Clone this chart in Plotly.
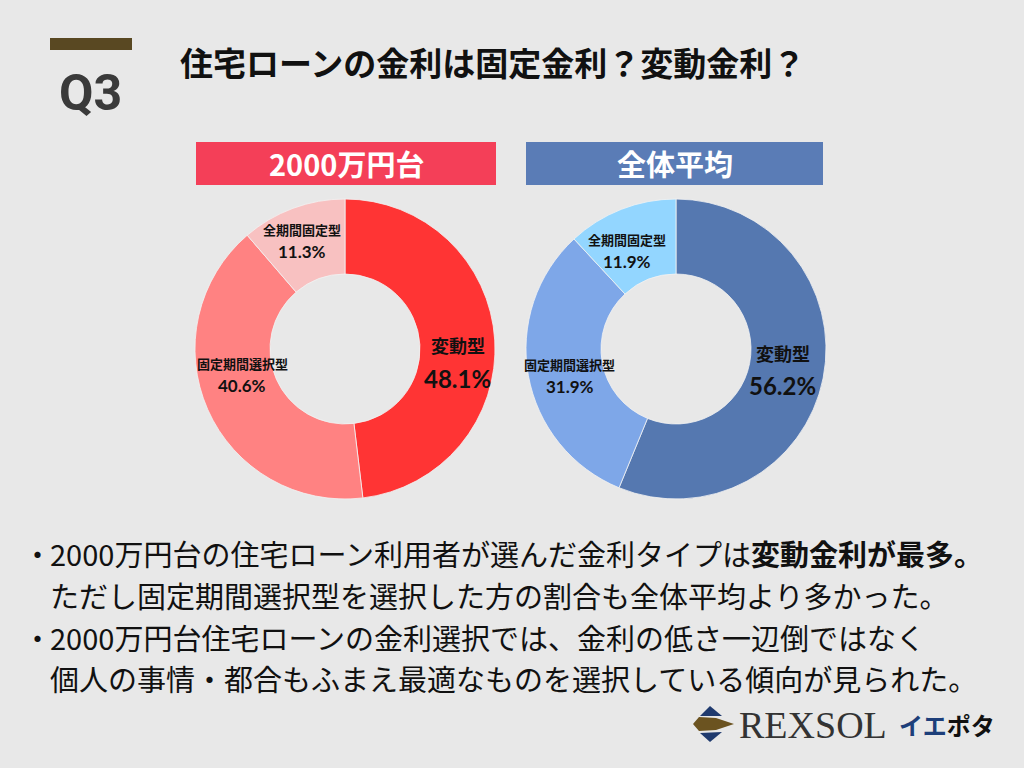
import math
import plotly.graph_objects as go

# ---- data ----
categories = ["変動型", "固定期間選択型", "全期間固定型"]
values_2000 = [48.1, 40.6, 11.3]
values_all = [56.2, 31.9, 11.9]
panel_titles = ["2000万円台", "全体平均"]
colors_2000 = ["#ff3434", "#ff8282", "#f8c1c1"]
colors_all = ["#5578b0", "#7ea7e8", "#93d6ff"]
header_colors = ["#f43f58", "#5a7cb6"]

title = "住宅ローンの金利は固定金利？変動金利？"
bullets = [
    ("・", "2000万円台の住宅ローン利用者が選んだ金利タイプは<b>変動金利が最多。</b>"),
    ("", "ただし固定期間選択型を選択した方の割合も全体平均より多かった。"),
    ("・", "2000万円台住宅ローンの金利選択では、金利の低さ一辺倒ではなく"),
    ("", "個人の事情・都合もふまえ最適なものを選択している傾向が見られた。"),
]

# label nudges (pixels, dx, dy) relative to slice mid-angle point, per pie
label_nudges = [
    [(1, 19), (0, -20), (-4, -3)],
    [(-3, -2), (4, 7), (-8, 6)],
]

W, H = 1024, 768
BG = "#e8e8e8"
FONT = "Noto Sans CJK JP"


def px(x):
    return x / W


def py(y):
    return 1 - y / H


fig = go.Figure()


def ann(x, y, text, size, color="#111", family=FONT, xanchor="center"):
    fig.add_annotation(x=px(x), y=py(y), xref="paper", yref="paper", text=text,
                       showarrow=False, xanchor=xanchor, yanchor="middle",
                       font=dict(family=family, size=size, color=color))


centers = [(345, 349), (676, 349)]
R = 150
for k, ((cx, cy), vals, cols) in enumerate(zip(centers, [values_2000, values_all],
                                               [colors_2000, colors_all])):
    fig.add_trace(go.Pie(
        labels=categories, values=vals, sort=False, direction="clockwise", rotation=0,
        hole=0.5, marker=dict(colors=cols, line=dict(color="#f2f2f2", width=0.8)),
        textinfo="none", hoverinfo="label+percent", showlegend=False,
        domain=dict(x=[px(cx - R), px(cx + R)], y=[py(cy + R), py(cy - R)]),
    ))
    total = sum(vals)
    cum = 0
    for i, (cat, v) in enumerate(zip(categories, vals)):
        mid = (cum + v / 2) / total * 2 * math.pi
        cum += v
        r = 112
        dx, dy = label_nudges[k][i]
        lx = cx + r * math.sin(mid) + dx
        ly = cy - r * math.cos(mid) + dy
        if i == 0:
            ann(lx, ly - 16, f"<b>{cat}</b>", 18)
            ann(lx, ly + 17, f"<b>{v:.1f}%</b>", 24, family="Lato, " + FONT)
        else:
            ann(lx, ly - 11, f"<b>{cat}</b>", 13)
            ann(lx, ly + 11, f"<b>{v:.1f}%</b>", 17, family="Lato, " + FONT)

# header boxes
boxes = [(196, 496), (526, 823)]
for (x0, x1), t, c in zip(boxes, panel_titles, header_colors):
    fig.add_shape(type="rect", xref="paper", yref="paper", x0=px(x0), x1=px(x1),
                  y0=py(185), y1=py(142), fillcolor=c, line=dict(width=0))
    ann((x0 + x1) / 2, 163, f"<b>{t}</b>", 29, color="white")

# Q3 marker and title
fig.add_shape(type="rect", xref="paper", yref="paper", x0=px(50), x1=px(132),
              y0=py(50), y1=py(38), fillcolor="#594822", line=dict(width=0))
ann(90, 93, "<b>Q3</b>", 50, color="#3a3a3a", family="Roboto, " + FONT)
ann(178, 62, f"<b>{title}</b>", 33, xanchor="left")

# bullet text
line_y = [553, 595, 637, 678]
for (b, t), yy in zip(bullets, line_y):
    if b:
        ann(21, yy, b, 29, xanchor="left")
    ann(48, yy, t, 29, xanchor="left")

# logo
def poly(pts, color):
    d = "M " + " L ".join(f"{px(a)},{py(b)}" for a, b in pts) + " Z"
    fig.add_shape(type="path", xref="paper", yref="paper", path=d,
                  fillcolor=color, line=dict(width=0))


poly([(710, 706), (700, 716), (722, 716)], "#1f3a6e")
poly([(700, 733), (722, 732), (710, 742)], "#1f3a6e")
poly([(693, 724), (699, 717), (716, 718), (734, 724), (716, 730), (699, 731)], "#6b5320")
ann(737, 725, "REXSOL", 38, color="#333", family="Liberation Serif", xanchor="left")
ann(897, 724, "<b><span style='color:#1d3f7a'>イエ</span>ポタ</b>", 24, xanchor="left")

fig.update_layout(width=W, height=H, margin=dict(l=0, r=0, t=0, b=0),
                  paper_bgcolor=BG, plot_bgcolor=BG)
fig.write_html("out.html", config={"displayModeBar": False},
               post_script="document.body.style.margin='0';document.body.style.overflow='hidden';")
